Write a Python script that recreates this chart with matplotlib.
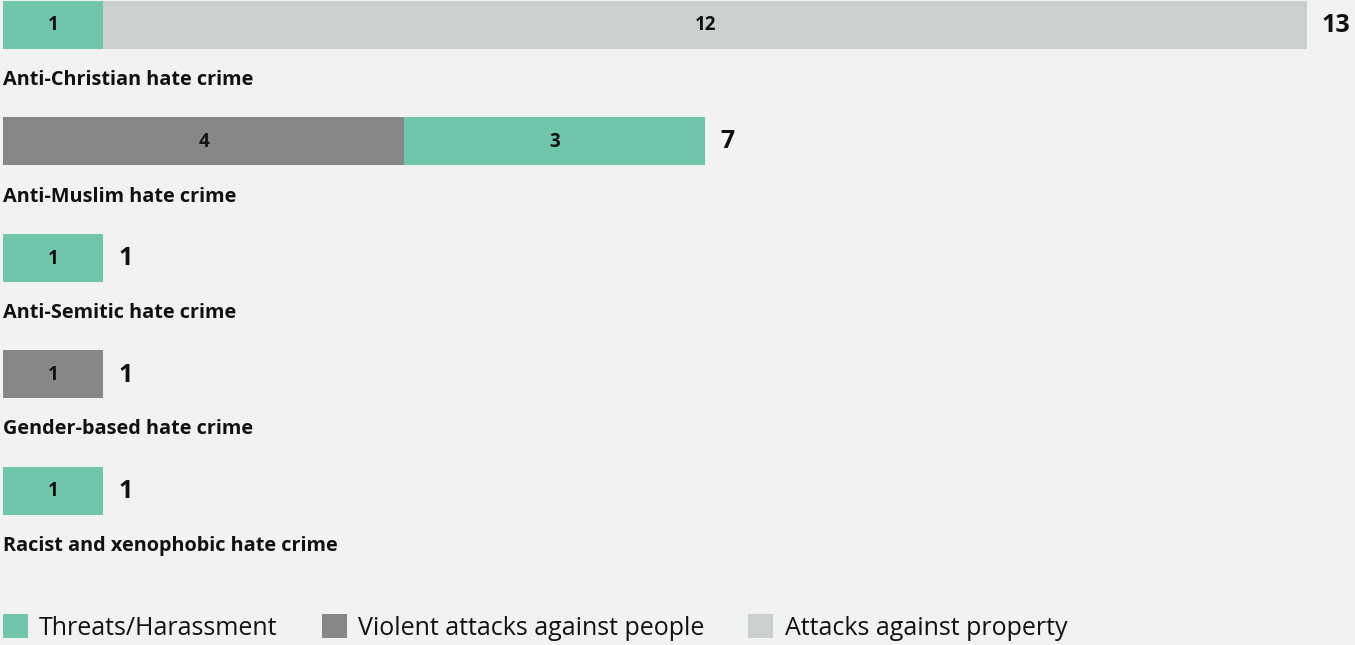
import matplotlib.pyplot as plt
from matplotlib.patches import Patch

# data
categories = ['Anti-Christian hate crime', 'Anti-Muslim hate crime', 'Anti-Semitic hate crime',
              'Gender-based hate crime', 'Racist and xenophobic hate crime']
# segments per row, drawn left to right: (series, value)
segments = [
    [('Threats/Harassment', 1), ('Attacks against property', 12)],
    [('Violent attacks against people', 4), ('Threats/Harassment', 3)],
    [('Threats/Harassment', 1)],
    [('Violent attacks against people', 1)],
    [('Threats/Harassment', 1)],
]
series = ['Threats/Harassment', 'Violent attacks against people', 'Attacks against property']
colors = {'Threats/Harassment': '#71c5ab',
          'Violent attacks against people': '#878787',
          'Attacks against property': '#cbcfce'}

plt.rcParams['font.family'] = ['Open Sans', 'DejaVu Sans']

bg = '#f2f2f2'
txt = '#111111'
fig = plt.figure(figsize=(13.55, 6.45), dpi=100)
fig.patch.set_facecolor(bg)
ax = fig.add_axes([0, 0, 1, 1])
ax.set_facecolor(bg)
unit = 100.3  # pixels per bar unit
ax.set_xlim(-3 / unit, (1355 - 3) / unit)
ax.set_ylim(645, 0)
ax.axis('off')

pitch = 116.5
bar_h = 48
for i, (cat, segs) in enumerate(zip(categories, segments)):
    yc = 24.5 + pitch * i
    left = 0
    for s, v in segs:
        ax.barh(yc, v, left=left, height=bar_h, color=colors[s], linewidth=0)
        ax.text(left + v / 2, yc + 1, str(v), ha='center', va='center',
                fontsize=13.5, fontweight='bold', color=txt)
        left += v
    ax.text(left + 0.15, yc + 1, str(left), ha='left', va='center',
            fontsize=18, fontweight='bold', color=txt)
    ax.text(0, yc + 60.5, cat, ha='left', va='baseline',
            fontsize=14.3, fontweight='bold', color=txt)

handles = [Patch(facecolor=colors[s], edgecolor='none') for s in series]
leg = fig.legend(handles, series, loc='center left', bbox_to_anchor=(0.0022, 17.5 / 645), ncol=3,
                 frameon=False, fontsize=18, handlelength=1.0, handleheight=1.1,
                 handletextpad=0.45, columnspacing=1.76, borderpad=0, borderaxespad=0)
for t in leg.get_texts():
    t.set_color(txt)

fig.savefig('out.png', dpi=100, facecolor=bg)
